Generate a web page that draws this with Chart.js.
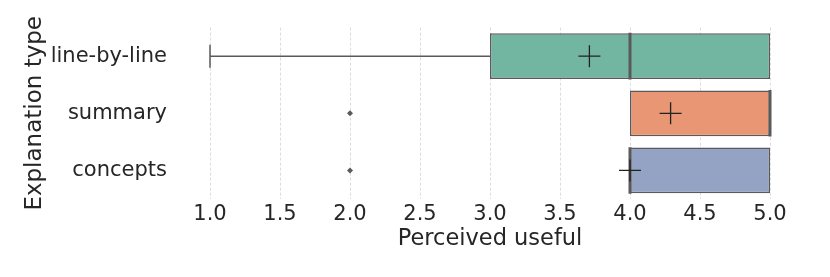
<!DOCTYPE html>
<html><head><meta charset="utf-8">
<script src="https://cdn.jsdelivr.net/npm/chart.js@4/dist/chart.umd.min.js"></script>
<style>html,body{margin:0;padding:0;background:#fff}#wrap{width:830px;height:277px}</style>
</head><body><div id="wrap"><canvas id="c" width="830" height="277"></canvas></div>
<script>
const categories = ['line-by-line', 'summary', 'concepts'];
const whiskerLow = [1, 4, 4];
const q1 = [3, 4, 4];
const median = [4, 5, 4];
const q3 = [5, 5, 5];
const whiskerHigh = [5, 5, 5];
const means = [3.71, 4.29, 4.0];
const outlierCats = ['summary', 'concepts'];
const outlierVals = [2, 2];
const xTicks = [1.0, 1.5, 2.0, 2.5, 3.0, 3.5, 4.0, 4.5, 5.0];
const boxColors = ['#72b6a1', '#e99675', '#94a3c4'];

const edge = '#5a5a5a';
const font = 'DejaVu Sans';

const whiskerSets = [];
const caps = [];
categories.forEach((c, i) => {
  if (whiskerLow[i] < q1[i]) {
    whiskerSets.push({type:'line', data:[{x:whiskerLow[i], y:c},{x:q1[i], y:c}], borderColor:edge, borderWidth:1.5, pointRadius:0, order:4});
    caps.push({x:whiskerLow[i], y:c});
  }
  if (whiskerHigh[i] > q3[i]) {
    whiskerSets.push({type:'line', data:[{x:q3[i], y:c},{x:whiskerHigh[i], y:c}], borderColor:edge, borderWidth:1.5, pointRadius:0, order:4});
    caps.push({x:whiskerHigh[i], y:c});
  }
});

new Chart(document.getElementById('c'), {
  type: 'bar',
  data: {
    labels: categories,
    datasets: [
      {type:'bar', data: q1.map((v,i)=>[v, q3[i]]), backgroundColor: boxColors, borderColor: edge, borderWidth: 1.5, borderSkipped: false, barPercentage: 0.8, categoryPercentage: 1, order: 5},
      ...whiskerSets,
      {type:'scatter', data: caps, pointStyle:'line', rotation:90, radius:11.5, borderColor:edge, borderWidth:1.5, order:3},
      {type:'scatter', data: categories.map((c,i)=>({x:median[i], y:c})), pointStyle:'line', rotation:90, radius:23.3, borderColor:edge, borderWidth:3, order:2},
      {type:'scatter', data: outlierCats.map((c,i)=>({x:outlierVals[i], y:c})), pointStyle:'rectRot', radius:3, backgroundColor:edge, borderColor:edge, borderWidth:0, order:2},
      {type:'scatter', data: categories.map((c,i)=>({x:means[i], y:c})), pointStyle:'cross', radius:11, borderColor:'#222', borderWidth:1.3, order:1}
    ]
  },
  options: {
    indexAxis: 'y',
    responsive: false,
    animation: false,
    events: [],
    layout: {padding: {top: 24, right: 32, bottom: 24.5, left: 0}},
    plugins: {legend: {display:false}, tooltip: {enabled:false}},
    scales: {
      x: {
        type: 'linear', min: 0.8, max: 5.2,
        afterBuildTicks: s => { s.ticks = xTicks.map(v => ({value: v})); },
        afterFit: s => { s.height = 53.5; },
        grid: {display: true, color: '#dcdcdc', lineWidth: 1, drawTicks: false},
        border: {display: false, dash: [3, 2]},
        ticks: {color: '#262626', font: {family: font, size: 21}, padding: 3, callback: v => Number(v).toFixed(1)},
        title: {display: true, text: 'Perceived useful', color: '#262626', font: {family: font, size: 22.5}, padding: {top: 0, bottom: 0}}
      },
      y: {
        type: 'category',
        afterFit: s => { s.width = 182; },
        grid: {display: false, drawTicks: false},
        border: {display: false},
        ticks: {color: '#262626', font: {family: font, size: 21}, padding: 15},
        title: {display: true, text: 'Explanation type', color: '#262626', font: {family: font, size: 23}, padding: {top: 21, bottom: 0}}
      }
    }
  }
});
</script>
</body></html>
